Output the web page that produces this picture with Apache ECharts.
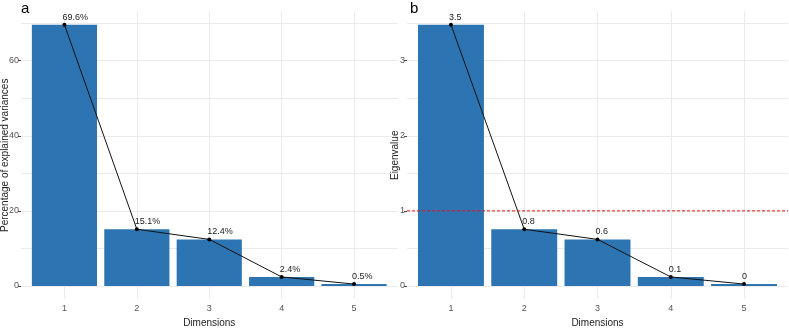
<!DOCTYPE html>
<html>
<head>
<meta charset="utf-8">
<script src="https://cdn.jsdelivr.net/npm/echarts@6/dist/echarts.min.js"></script>
<style>
  html, body { margin: 0; padding: 0; background: #fff; }
  #chart { width: 789px; height: 328px; }
</style>
</head>
<body>
<div id="chart"></div>
<script>
// scree plot data
const dims = [1, 2, 3, 4, 5];
const variancePct = [69.6, 15.1, 12.4, 2.4, 0.5];
const eigenvalues = [3.48, 0.755, 0.62, 0.12, 0.025];
const pctLabels = ['69.6%', '15.1%', '12.4%', '2.4%', '0.5%'];
const eigLabels = ['3.5', '0.8', '0.6', '0.1', '0'];
const pctTicks = [0, 20, 40, 60];
const pctGrid = [0, 10, 20, 30, 40, 50, 60, 70];
const eigTicks = [0, 1, 2, 3];
const eigGrid = [0, 0.5, 1, 1.5, 2, 2.5, 3, 3.5];
const kaiserLine = 1;
const xRange = [0.4, 5.6];

const narrow = '"Liberation Sans Narrow", "Liberation Sans", Arial, sans-serif';
const plain = '"Liberation Sans", Arial, sans-serif';
const barColor = '#2C75B2';
const gridColor = '#EBEBEB';

const chart = echarts.init(document.getElementById('chart'));

function xAxisFor(idx) {
    return {
        type: 'value',
        gridIndex: idx,
        min: xRange[0],
        max: xRange[1],
        name: 'Dimensions',
        nameLocation: 'middle',
        nameGap: 19,
        nameMoveOverlap: false,
        nameTextStyle: { fontFamily: narrow, fontSize: 10, color: '#222' },
        axisLine: { show: false },
        splitLine: { show: false },
        axisTick: { show: true, customValues: dims, length: 3, lineStyle: { color: '#444' } },
        axisLabel: { customValues: dims, fontFamily: narrow, fontSize: 9, color: '#555', margin: 5 }
    };
}

function yAxisFor(idx, name, min, max, ticks, gap) {
    return {
        type: 'value',
        gridIndex: idx,
        min: min,
        max: max,
        name: name,
        nameLocation: 'middle',
        nameGap: gap,
        nameMoveOverlap: false,
        nameTextStyle: { fontFamily: plain, fontSize: 10, color: '#222' },
        axisLine: { show: false },
        splitLine: { show: false },
        axisTick: { show: true, customValues: ticks, length: 3, lineStyle: { color: '#444' } },
        axisLabel: { customValues: ticks, fontFamily: narrow, fontSize: 9, color: '#555', margin: 2 }
    };
}

function gridLines(hVals, yMin, yMax) {
    const data = [];
    hVals.forEach(v => data.push({ yAxis: v }));
    dims.forEach(d => data.push([{ coord: [d, yMin] }, { coord: [d, yMax] }]));
    return {
        silent: true,
        z: 1,
        symbol: 'none',
        label: { show: false },
        lineStyle: { color: gridColor, type: 'solid', width: 1 },
        emphasis: { disabled: true },
        animation: false,
        data: data
    };
}

function barSeries(idx, vals, hVals, yMin, yMax) {
    return {
        type: 'bar',
        xAxisIndex: idx,
        yAxisIndex: idx,
        z: 2,
        barWidth: '90%',
        itemStyle: { color: barColor },
        data: vals.map((v, i) => [dims[i], v]),
        markLine: gridLines(hVals, yMin, yMax)
    };
}

function lineSeries(idx, vals, labels) {
    return {
        type: 'line',
        xAxisIndex: idx,
        yAxisIndex: idx,
        z: 4,
        symbol: 'circle',
        symbolSize: 4,
        itemStyle: { color: '#000' },
        lineStyle: { color: '#111', width: 1 },
        label: {
            show: true,
            position: 'top',
            align: 'left',
            offset: [-2, 0],
            distance: 1,
            fontFamily: narrow,
            fontSize: 9,
            color: '#222',
            formatter: p => labels[p.dataIndex]
        },
        data: vals.map((v, i) => [dims[i], v])
    };
}

const option = {
    animation: false,
    title: [
        { text: 'a', left: 16, top: -4, textStyle: { fontFamily: plain, fontSize: 15, fontWeight: 'normal', color: '#000' } },
        { text: 'b', left: 405, top: -4, textStyle: { fontFamily: plain, fontSize: 15, fontWeight: 'normal', color: '#000' } }
    ],
    grid: [
        { left: 21, top: 11.6, width: 376.5, height: 287.4, outerBoundsMode: 'none', containLabel: false },
        { left: 407, top: 11.6, width: 381, height: 287.4, outerBoundsMode: 'none', containLabel: false }
    ],
    xAxis: [xAxisFor(0), xAxisFor(1)],
    yAxis: [
        yAxisFor(0, 'Percentage of explained variances', -3.48, 73.08, pctTicks, 11),
        yAxisFor(1, 'Eigenvalue', -0.174, 3.654, eigTicks, 7)
    ],
    series: [
        barSeries(0, variancePct, pctGrid, -3.48, 73.08),
        lineSeries(0, variancePct, pctLabels),
        barSeries(1, eigenvalues, eigGrid, -0.174, 3.654),
        lineSeries(1, eigenvalues, eigLabels),
        {
            // kaiser criterion reference line
            type: 'line',
            xAxisIndex: 1,
            yAxisIndex: 1,
            z: 5,
            symbol: 'none',
            silent: true,
            color: '#EE1111',
            lineStyle: { color: '#EE1111', type: [3, 2], width: 1 },
            emphasis: { disabled: true },
            data: xRange.map(x => [x, kaiserLine])
        }
    ]
};

chart.setOption(option);
</script>
</body>
</html>
